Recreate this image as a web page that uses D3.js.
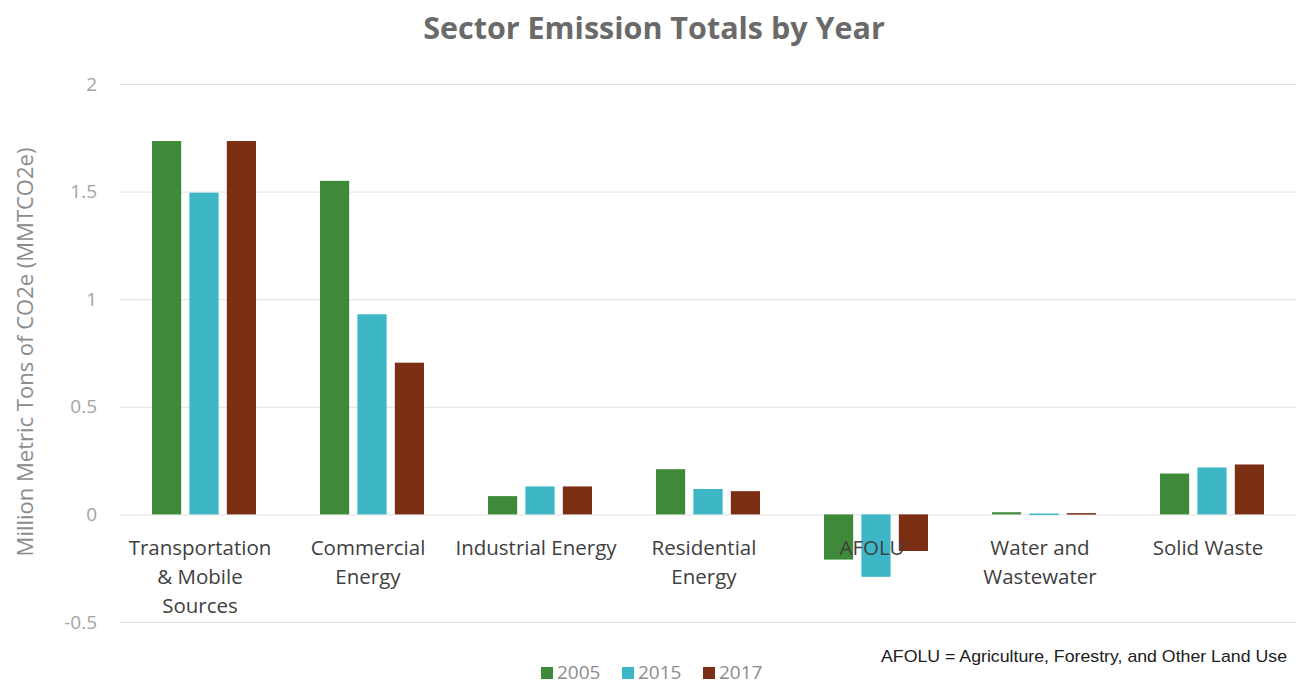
<!DOCTYPE html>
<html>
<head>
<meta charset="utf-8">
<script src="https://cdn.jsdelivr.net/npm/d3@7"></script>
<style>
  body { margin: 0; background: #ffffff; }
  svg { display: block; }
</style>
</head>
<body>
<svg id="chart"></svg>
<script>
// DATA ////////////////////////////////////////////////////////////////////////
var sectors = [
  ["Transportation", "& Mobile", "Sources"],
  ["Commercial", "Energy"],
  ["Industrial Energy"],
  ["Residential", "Energy"],
  ["AFOLU"],
  ["Water and", "Wastewater"],
  ["Solid Waste"]
];
var years = ["2005", "2015", "2017"];
var values2005 = [1.735, 1.55, 0.085, 0.21, -0.21, 0.01, 0.19];
var values2015 = [1.495, 0.93, 0.13, 0.118, -0.29, 0.004, 0.218];
var values2017 = [1.735, 0.705, 0.13, 0.108, -0.17, 0.006, 0.232];
var yTicks = [-0.5, 0, 0.5, 1, 1.5, 2];

var COLOURS = ["#3f8a39", "#3db6c6", "#7c2f15"];

// SETUP ///////////////////////////////////////////////////////////////////////
var WIDTH = 1304, HEIGHT = 687;
var PLOT_LEFT = 120, PLOT_RIGHT = 1296;

var svg = d3.select("#chart")
    .attr("width", WIDTH)
    .attr("height", HEIGHT)
    .style("font-family", "'Open Sans', 'Noto Sans', sans-serif");

var sectorKeys = sectors.map(function (d) { return d.join(" "); });

var x0 = d3.scaleBand().domain(sectorKeys).range([PLOT_LEFT, PLOT_RIGHT]);
var x1 = d3.scaleBand().domain(years).range([32, 136]).paddingInner(0.22);
var y = d3.scaleLinear().domain([-0.5, 2]).range([622, 84]);
var colour = d3.scaleOrdinal().domain(years).range(COLOURS);

var series = [values2005, values2015, values2017];
var rows = [];
sectorKeys.forEach(function (s, i) {
  years.forEach(function (yr, j) {
    rows.push({ sector: s, year: yr, value: series[j][i] });
  });
});

// title
svg.append("text")
    .attr("x", 654)
    .attr("y", 39)
    .attr("text-anchor", "middle")
    .style("font-size", "30.5px")
    .style("font-weight", "700")
    .style("fill", "#6a6a6a")
    .text("Sector Emission Totals by Year");

// gridlines + y tick labels
var yAxis = svg.append("g")
    .attr("transform", "translate(" + PLOT_LEFT + ",0)")
    .call(d3.axisLeft(y).tickValues(yTicks).tickSize(-(PLOT_RIGHT - PLOT_LEFT)).tickPadding(23)
        .tickFormat(function (d) { return String(d); }));
yAxis.select(".domain").remove();
yAxis.selectAll(".tick line").attr("stroke", "#e2e2e2");
yAxis.selectAll(".tick text")
    .style("font-size", "19px")
    .style("font-family", "'Open Sans', sans-serif")
    .style("fill", "#a4a4a4");

// y axis title
svg.append("text")
    .attr("transform", "translate(33,352) rotate(-90)")
    .attr("text-anchor", "middle")
    .style("font-size", "22px")
    .style("fill", "#8c8c8c")
    .text("Million Metric Tons of CO2e (MMTCO2e)");

// bars
svg.append("g")
    .selectAll("rect")
    .data(rows)
    .enter().append("rect")
    .attr("x", function (d) { return x0(d.sector) + x1(d.year); })
    .attr("y", function (d) { return y(Math.max(0, d.value)); })
    .attr("width", x1.bandwidth())
    .attr("height", function (d) { return Math.max(1.5, Math.abs(y(d.value) - y(0))); })
    .attr("fill", function (d) { return colour(d.year); });

// category labels
var labels = svg.append("g")
    .selectAll("text")
    .data(sectors)
    .enter().append("text")
    .attr("x", function (d, i) { return x0(sectorKeys[i]) + x0.bandwidth() / 2 - 4; })
    .attr("y", 555)
    .attr("text-anchor", "middle")
    .style("font-size", "20.5px")
    .style("fill", "#404040");
labels.selectAll("tspan")
    .data(function (d) { return d; })
    .enter().append("tspan")
    .attr("x", function () { return d3.select(this.parentNode).attr("x"); })
    .attr("dy", function (d, i) { return i === 0 ? 0 : 29; })
    .text(function (d) { return d; });

// legend
var legend = svg.append("g")
    .selectAll("g")
    .data(years)
    .enter().append("g")
    .attr("transform", function (d, i) { return "translate(" + (541 + i * 81) + ",673)"; });
legend.append("rect")
    .attr("x", 0).attr("y", -6)
    .attr("width", 12).attr("height", 12)
    .attr("fill", function (d) { return colour(d); });
legend.append("text")
    .attr("x", 16).attr("y", 6)
    .style("font-size", "19px")
    .style("fill", "#8c8c8c")
    .text(function (d) { return d; });

// footnote
svg.append("text")
    .attr("x", 881)
    .attr("y", 662)
    .attr("textLength", 406)
    .attr("lengthAdjust", "spacingAndGlyphs")
    .style("font-family", "'Liberation Sans Narrow', 'Liberation Sans', Arial, sans-serif")
    .style("font-size", "17px")
    .style("fill", "#202020")
    .text("AFOLU = Agriculture, Forestry, and Other Land Use");
</script>
</body>
</html>
